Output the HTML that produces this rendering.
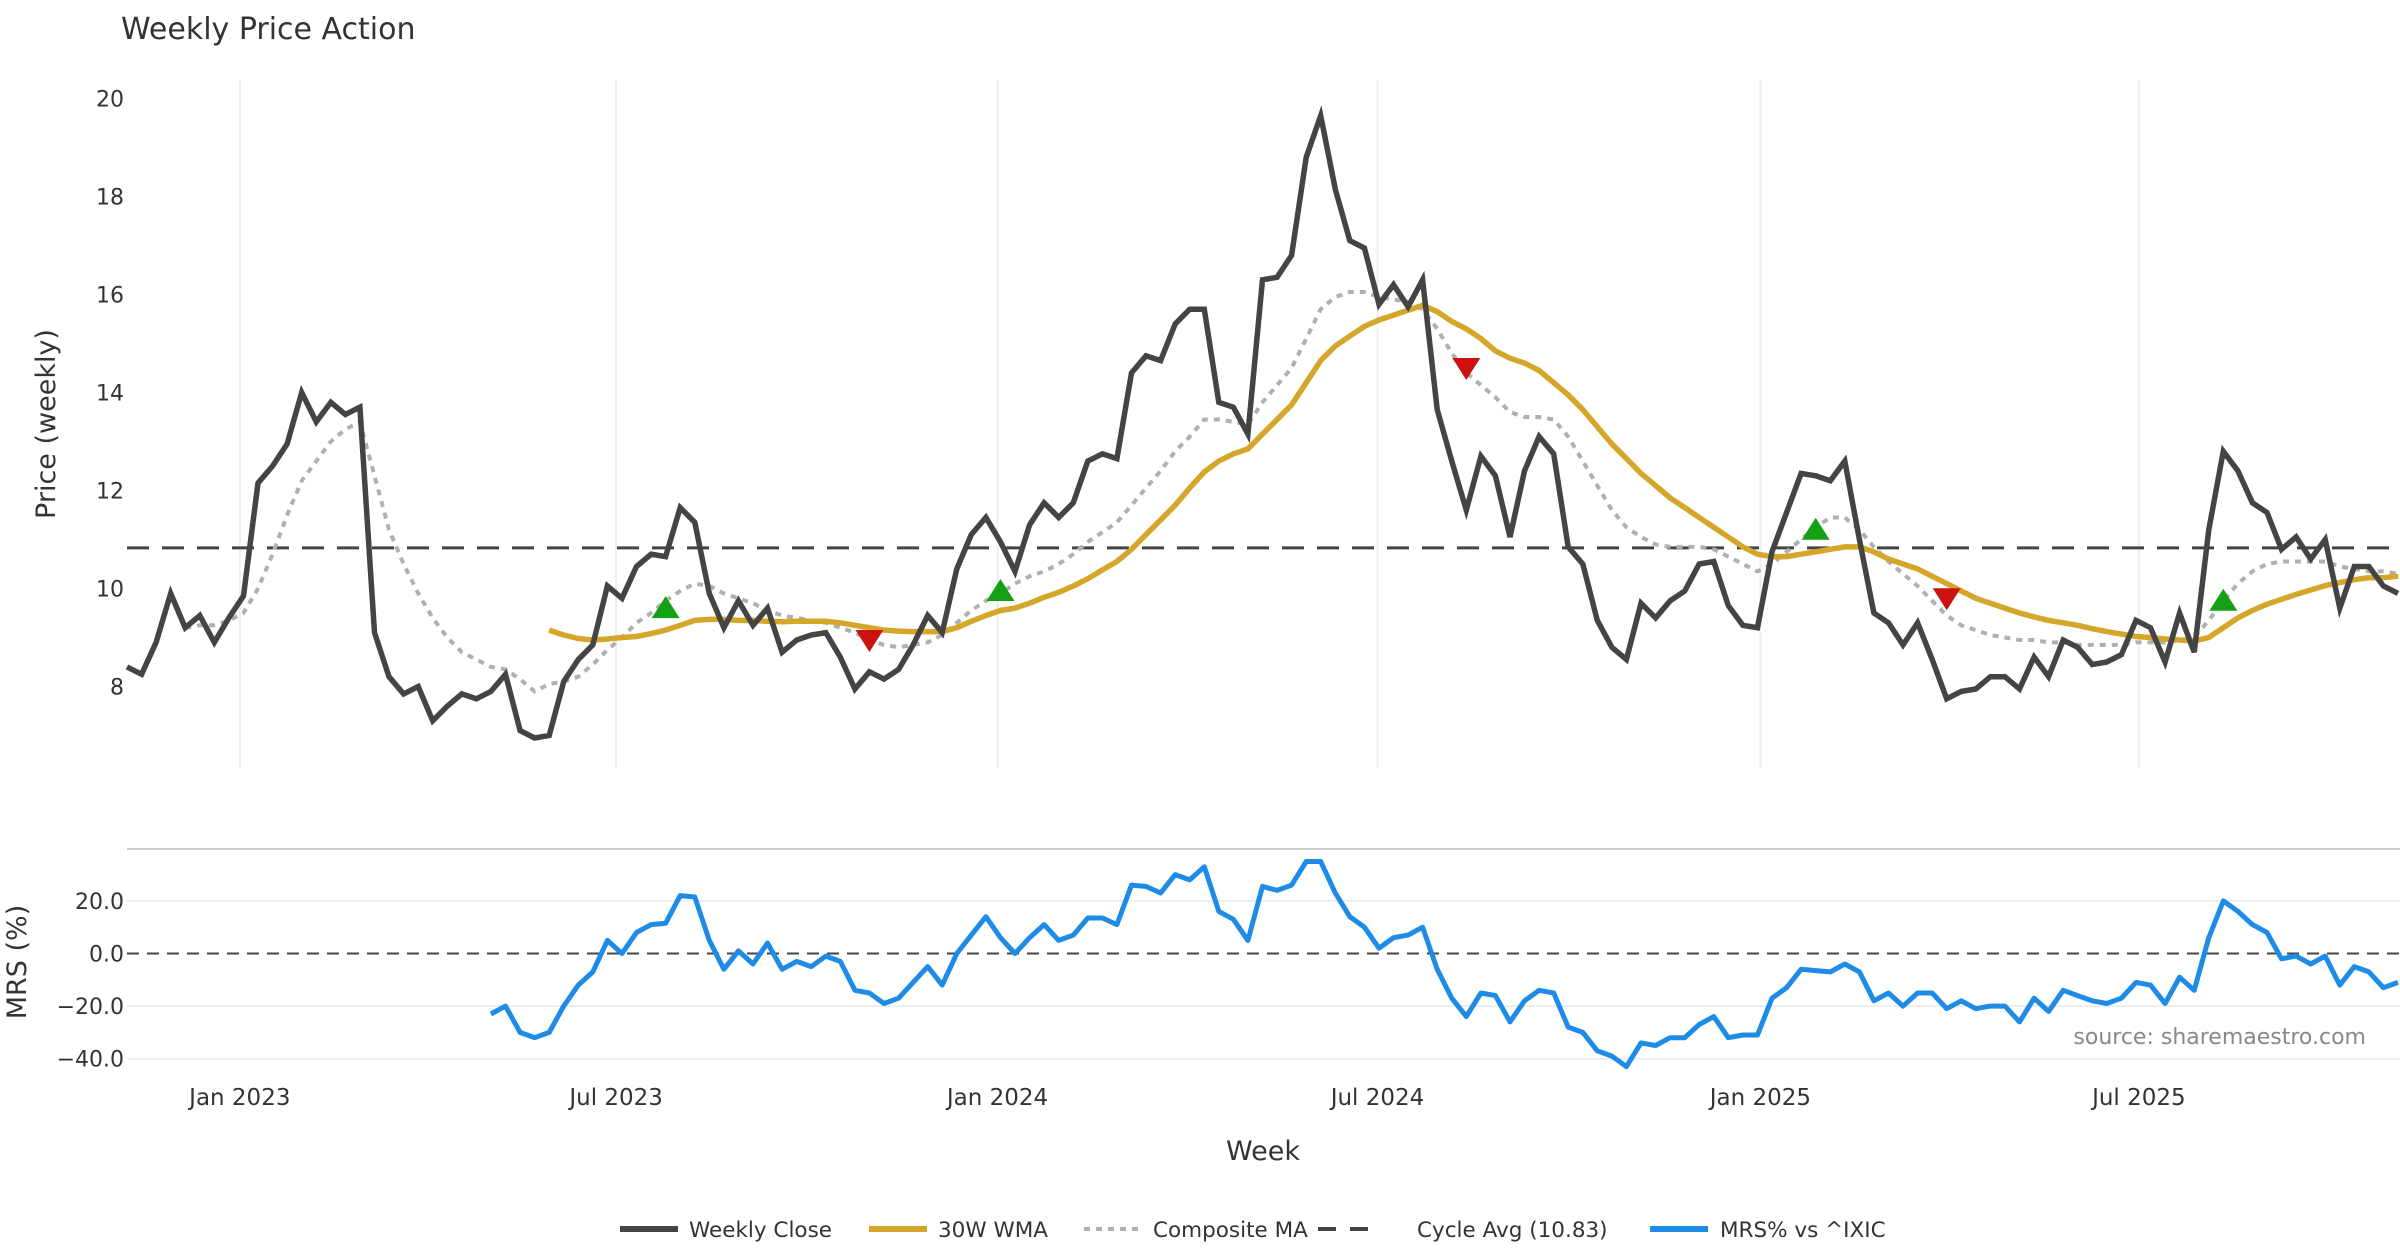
<!DOCTYPE html>
<html><head><meta charset="utf-8"><style>
html,body{margin:0;padding:0;background:#fff;}
svg{display:block;font-family:"DejaVu Sans","Liberation Sans",sans-serif;}
</style></head><body>
<svg id="chart" width="2400" height="1260" viewBox="0 0 2400 1260" xmlns="http://www.w3.org/2000/svg">
<text x="121" y="39" font-size="30" fill="#333">Weekly Price Action</text>
<g id="grid"></g>
<g id="series"></g>
<g id="axes"></g>
<text x="2366" y="1044" font-size="22" fill="#888" text-anchor="end">source: sharemaestro.com</text>
<g id="legend"></g>
</svg>
<script>
const closeVals=[8.4,8.25,8.9,9.9,9.2,9.45,8.9,9.4,9.85,12.15,12.5,12.95,14.0,13.4,13.8,13.55,13.7,9.1,8.2,7.85,8.0,7.3,7.6,7.85,7.75,7.9,8.25,7.1,6.95,7.0,8.1,8.55,8.85,10.05,9.8,10.45,10.7,10.65,11.65,11.35,9.9,9.2,9.75,9.25,9.6,8.7,8.95,9.05,9.1,8.6,7.95,8.3,8.15,8.35,8.85,9.45,9.1,10.4,11.1,11.45,10.95,10.35,11.3,11.75,11.45,11.75,12.6,12.75,12.65,14.4,14.75,14.65,15.4,15.7,15.7,13.8,13.7,13.15,16.3,16.35,16.8,18.8,19.65,18.15,17.1,16.95,15.8,16.2,15.75,16.3,13.65,12.6,11.6,12.7,12.3,11.05,12.4,13.1,12.75,10.85,10.5,9.35,8.8,8.55,9.7,9.4,9.75,9.95,10.5,10.55,9.65,9.25,9.2,10.75,11.55,12.35,12.3,12.2,12.6,11.0,9.5,9.3,8.85,9.3,8.55,7.75,7.9,7.95,8.2,8.2,7.95,8.6,8.2,8.95,8.8,8.45,8.5,8.65,9.35,9.2,8.5,9.5,8.7,11.2,12.8,12.4,11.75,11.55,10.8,11.05,10.6,11.0,9.6,10.45,10.45,10.05,9.9];
const compositeStart=4;
const compositeVals=[9.2,9.25,9.25,9.35,9.5,10.0,10.7,11.5,12.2,12.6,13.0,13.25,13.4,12.3,11.2,10.5,9.9,9.4,9.0,8.7,8.55,8.4,8.35,8.15,7.9,8.05,8.1,8.2,8.45,8.75,9.0,9.3,9.5,9.75,9.95,10.1,10.05,9.9,9.8,9.7,9.55,9.45,9.4,9.35,9.3,9.2,9.1,8.95,8.85,8.8,8.85,8.9,9.05,9.3,9.55,9.75,9.9,10.1,10.25,10.35,10.5,10.7,10.95,11.15,11.35,11.7,12.05,12.4,12.8,13.1,13.45,13.45,13.4,13.35,13.8,14.15,14.5,15.1,15.7,15.95,16.05,16.05,15.95,15.9,15.85,15.7,15.3,14.8,14.4,14.15,13.9,13.6,13.5,13.5,13.45,13.1,12.6,12.1,11.6,11.25,11.05,10.9,10.85,10.85,10.85,10.8,10.65,10.5,10.35,10.5,10.75,11.0,11.25,11.45,11.45,11.2,10.85,10.55,10.3,10.05,9.75,9.45,9.25,9.15,9.05,9.0,8.95,8.95,8.9,8.9,8.85,8.85,8.85,8.85,8.9,8.9,8.9,8.95,9.0,9.35,9.75,10.1,10.35,10.5,10.55,10.55,10.55,10.55,10.45,10.4,10.35,10.35,10.3];
const wmaStart=29;
const wmaVals=[9.15,9.05,8.98,8.95,8.97,9.0,9.02,9.08,9.15,9.25,9.35,9.37,9.37,9.35,9.35,9.33,9.32,9.33,9.33,9.33,9.3,9.25,9.2,9.15,9.13,9.12,9.12,9.12,9.2,9.33,9.45,9.55,9.6,9.7,9.82,9.92,10.05,10.2,10.38,10.55,10.8,11.1,11.4,11.7,12.05,12.38,12.6,12.75,12.85,13.15,13.45,13.75,14.2,14.65,14.95,15.15,15.35,15.48,15.58,15.68,15.78,15.65,15.45,15.3,15.1,14.85,14.7,14.6,14.45,14.2,13.95,13.65,13.3,12.95,12.65,12.35,12.1,11.85,11.65,11.45,11.25,11.05,10.85,10.7,10.65,10.65,10.7,10.75,10.8,10.85,10.85,10.75,10.6,10.5,10.4,10.25,10.1,9.95,9.8,9.7,9.6,9.5,9.42,9.35,9.3,9.25,9.18,9.12,9.07,9.02,9.0,8.97,8.95,8.93,9.0,9.2,9.4,9.55,9.68,9.78,9.88,9.97,10.06,10.12,10.18,10.22,10.22,10.25];
const mrsStart=25;
const mrsVals=[-23,-20,-30,-32,-30,-20,-12,-7,5,0,8,11,11.5,22,21.5,5,-6,1,-4,4,-6,-3,-5,-1,-3,-14,-15,-19,-17,-11,-5,-12,0,7,14,6,0,6,11,5,7,13.5,13.5,11,26,25.5,23,30,28,33,16,13,5,25.5,24,26,35,35,23,14,10,2,6,7,10,-6,-17,-24,-15,-16,-26,-18,-14,-15,-28,-30,-37,-39,-43,-34,-35,-32,-32,-27,-24,-32,-31,-31,-17,-13,-6,-6.5,-7,-4,-7,-18,-15,-20,-15,-15,-21,-18,-21,-20,-20,-26,-17,-22,-14,-16,-18,-19,-17,-11,-12,-19,-9,-14,6,20,16,11,8,-2,-1,-4,-1,-12,-5,-7,-13,-11];
const cycleAvg=10.83;
const buyIdx=[37,60,116,144];
const buyVals=[9.6,9.95,11.2,9.75];
const sellIdx=[51,92,125];
const sellVals=[8.95,14.5,9.8];
const priceTicks=[8,10,12,14,16,18,20];
const mrsTicks=[20,0,-20,-40];
const mrsTickLabels=["20.0","0.0","\u221220.0","\u221240.0"];
const dateTickWeeks=[7.75,33.6,59.8,85.9,112.2,138.2];
const dateTickLabels=["Jan 2023","Jul 2023","Jan 2024","Jul 2024","Jan 2025","Jul 2025"];

const NS="http://www.w3.org/2000/svg";
const X0=127,X1=2398,N=closeVals.length;
function xs(i){return X0+i*(X1-X0)/(N-1);}
function yp(v){return 98.5+(20-v)*49.0;}
function ym(v){return 953.5-v*2.63;}
function mk(parent,tag,attrs){const e=document.createElementNS(NS,tag);for(const k in attrs)e.setAttribute(k,attrs[k]);document.getElementById(parent).appendChild(e);return e;}
function pathFrom(vals,start,yf){return vals.map((v,k)=>(k?'L':'M')+xs(start+k).toFixed(1)+' '+yf(v).toFixed(1)).join(' ');}

dateTickWeeks.forEach((w,k)=>{
  const g=mk('grid','line',{x1:xs(w),x2:xs(w),y1:80,y2:768,stroke:'#eceef0','stroke-width':2});
  
  
  const t=mk('axes','text',{x:xs(w),y:1105,'font-size':23,fill:'#333','text-anchor':'middle'});
  t.textContent=dateTickLabels[k];
  
  
});
priceTicks.forEach(v=>{
  const t=mk('axes','text',{x:124,y:yp(v)+8,'font-size':22,fill:'#333','text-anchor':'end'});
  t.textContent=v;
  
  
});
mrsTicks.forEach((v,k)=>{
  if(v!==0){const g=mk('grid','line',{x1:X0,x2:2400,y1:ym(v),y2:ym(v),stroke:'#eceef0','stroke-width':2});
  
  }
  const t=mk('axes','text',{x:124,y:ym(v)+8,'font-size':22,fill:'#333','text-anchor':'end'});
  t.textContent=mrsTickLabels[k];
  
  
});
const sep=mk('grid','line',{x1:X0,x2:2400,y1:849,y2:849,stroke:'#ccc','stroke-width':2});


const zl=mk('grid','line',{x1:X0,x2:2400,y1:ym(0),y2:ym(0),stroke:'#444','stroke-width':2,'stroke-dasharray':'12 8'});



const yt=mk('axes','text',{x:0,y:0,'font-size':27,fill:'#333','text-anchor':'middle',transform:'translate(55,424) rotate(-90)'});
yt.textContent='Price (weekly)';


const mt=mk('axes','text',{x:0,y:0,'font-size':27,fill:'#333','text-anchor':'middle',transform:'translate(26,962) rotate(-90)'});
mt.textContent='MRS (%)';


const xt=mk('axes','text',{x:1263,y:1160,'font-size':27,fill:'#333','text-anchor':'middle'});
xt.textContent='Week';



const ca=mk('series','line',{x1:X0,x2:2400,y1:yp(cycleAvg),y2:yp(cycleAvg),stroke:'#444','stroke-width':3,'stroke-dasharray':'22 13'});


const cm=mk('series','path',{d:pathFrom(compositeVals,compositeStart,yp),fill:'none',stroke:'#b0b0b0','stroke-width':4,'stroke-dasharray':'6 6'});


const wm=mk('series','path',{d:pathFrom(wmaVals,wmaStart,yp),fill:'none',stroke:'#d4a62a','stroke-width':5.5,'stroke-linejoin':'round'});


const cl=mk('series','path',{d:pathFrom(closeVals,0,yp),fill:'none',stroke:'#444','stroke-width':5.5,'stroke-linejoin':'miter'});


const ml=mk('series','path',{d:pathFrom(mrsVals,mrsStart,ym),fill:'none',stroke:'#1e8ce6','stroke-width':5,'stroke-linejoin':'round'});


buyIdx.forEach((i,k)=>{const x=xs(i),y=yp(buyVals[k]);
  const p=mk('series','path',{d:`M${x-14} ${y+10} L${x+14} ${y+10} L${x} ${y-12} Z`,fill:'#14a014'});
  
  });
sellIdx.forEach((i,k)=>{const x=xs(i),y=yp(sellVals[k]);
  const p=mk('series','path',{d:`M${x-14} ${y-10} L${x+14} ${y-10} L${x} ${y+12} Z`,fill:'#cc1111'});
  
  });

const leg=[["Weekly Close",620,"#444",'',689],["30W WMA",869,"#d4a62a",'',938],["Composite MA",1084,"#b0b0b0",'6 6',1153],["Cycle Avg (10.83)",1318,"#444",'18 14',1417],["MRS% vs ^IXIC",1650,"#1e8ce6",'',1720]];
leg.forEach(l=>{
  const a={x1:l[1],x2:l[1]+58,y1:1229,y2:1229,stroke:l[2],'stroke-width':l[3]?4:6};
  if(l[3])a['stroke-dasharray']=l[3];
  const s=mk('legend','line',a);
  
  
  const t=mk('legend','text',{x:l[4],y:1237,'font-size':21.5,fill:'#333'});
  t.textContent=l[0];
  
  
});
</script>
</body></html>
